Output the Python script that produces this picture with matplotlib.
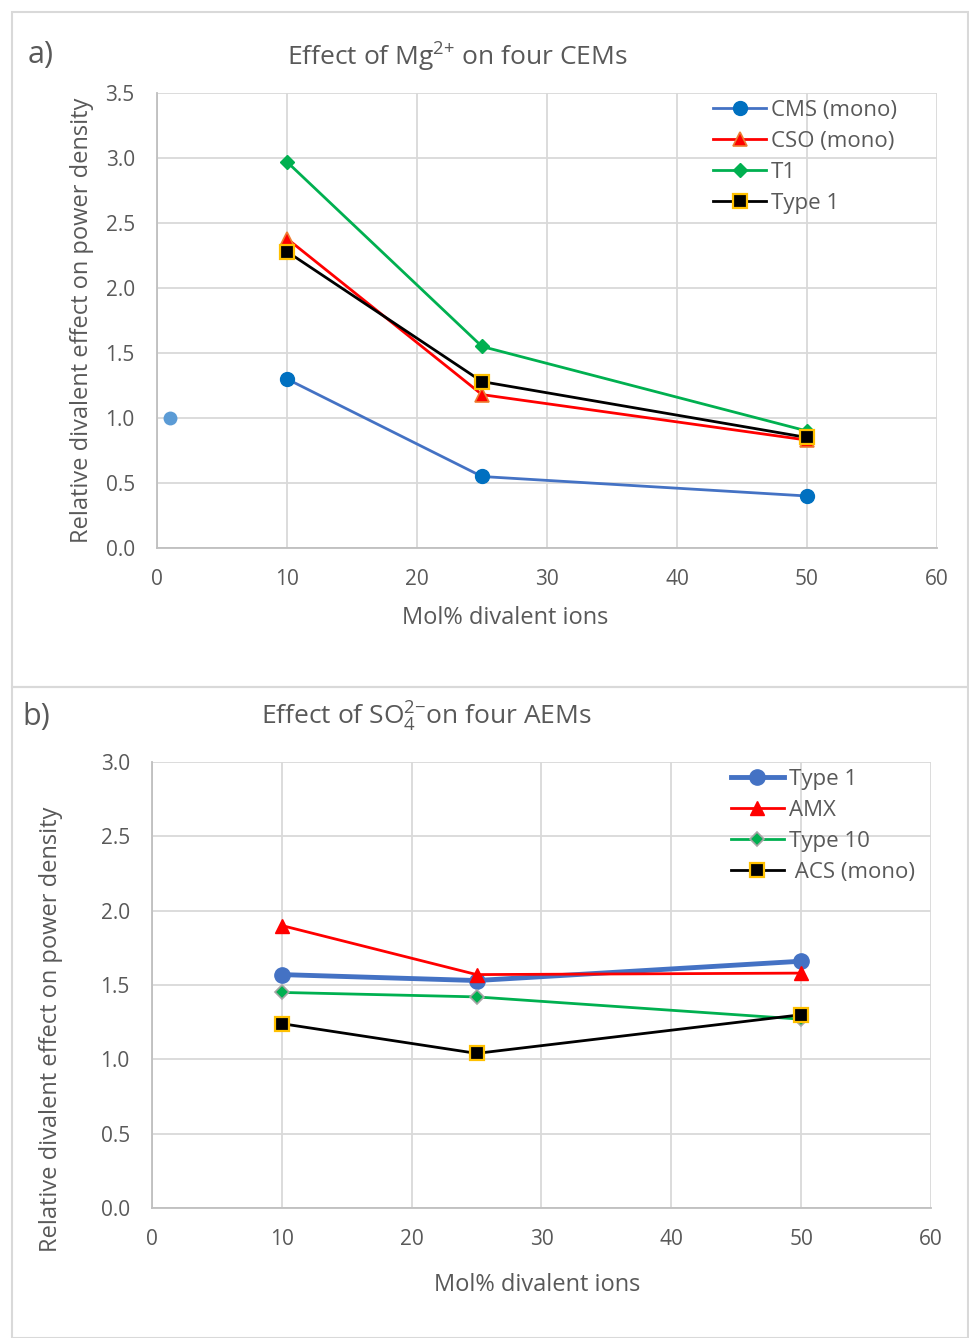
import matplotlib
matplotlib.use("Agg")
import matplotlib.pyplot as plt
from matplotlib.patches import Rectangle

plt.rcParams['font.family'] = ['Open Sans', 'DejaVu Sans']
plt.rcParams['mathtext.fontset'] = 'custom'
plt.rcParams['mathtext.rm'] = 'Open Sans'
plt.rcParams['mathtext.it'] = 'Open Sans'

# panel a: effect of Mg2+ on four CEMs
mol_a = [10, 25, 50]
cms = [1.30, 0.55, 0.40]
cso = [2.38, 1.18, 0.83]
t1 = [2.97, 1.55, 0.90]
type1_a = [2.28, 1.28, 0.85]
ref_x = [1]
ref_y = [1.0]

# panel b: effect of SO4 2- on four AEMs
mol_b = [10, 25, 50]
type1_b = [1.57, 1.53, 1.66]
amx = [1.90, 1.57, 1.58]
type10 = [1.45, 1.42, 1.27]
acs = [1.24, 1.04, 1.30]

grey_text = '#595959'
grid_col = '#D9D9D9'

fig = plt.figure(figsize=(9.7, 13.38), dpi=100)
W, H = 970, 1338


def fx(px):
    return px / W


def fy(py):
    return 1 - py / H


# frame boxes around each panel
for top, bot in [(12, 687), (687, 1338)]:
    fig.patches.append(Rectangle((fx(12), fy(bot)), fx(968) - fx(12), fy(top) - fy(bot),
                                 transform=fig.transFigure, fill=False,
                                 edgecolor='#D9D9D9', linewidth=1.5))


def style_axes(ax, ymax, step):
    ax.set_xlim(0, 60)
    ax.set_ylim(0, ymax)
    ax.set_xticks(range(0, 61, 10))
    yt = [i * step for i in range(int(round(ymax / step)) + 1)]
    ax.set_yticks(yt)
    ax.set_yticklabels([f"{v:.1f}" for v in yt])
    ax.grid(True, color=grid_col, linewidth=1.3)
    ax.set_axisbelow(True)
    for s in ['top', 'right']:
        ax.spines[s].set_visible(False)
    for s in ['left', 'bottom']:
        ax.spines[s].set_color('#BFBFBF')
        ax.spines[s].set_linewidth(1.3)
    ax.tick_params(length=0, labelsize=15, labelcolor=grey_text)
    ax.tick_params(axis='x', pad=15)
    ax.tick_params(axis='y', pad=16)


def style_legend(ax, x0):
    leg = ax.legend(loc='upper left', bbox_to_anchor=(x0, 0.985), frameon=False,
                    fontsize=16, handlelength=2.4, handletextpad=0.2,
                    labelspacing=0.45, borderaxespad=0, borderpad=0)
    for t in leg.get_texts():
        t.set_color(grey_text)


# ---- panel a ----
ax1 = fig.add_axes([fx(157), fy(548), fx(937) - fx(157), fy(93) - fy(548)])
style_axes(ax1, 3.5, 0.5)
ax1.plot(ref_x, ref_y, 'o', color='#5B9BD5', markersize=10, markeredgewidth=0)
ax1.plot(mol_a, cms, '-o', color='#4472C4', linewidth=2, markersize=10,
         markerfacecolor='#0070C0', markeredgecolor='#0070C0', label='CMS (mono)')
ax1.plot(mol_a, cso, '-^', color='#FF0000', linewidth=2, markersize=10,
         markerfacecolor='#FF0000', markeredgecolor='#ED7D31', markeredgewidth=1.2,
         label='CSO (mono)')
ax1.plot(mol_a, t1, '-D', color='#00B050', linewidth=2, markersize=7,
         markerfacecolor='#00B050', markeredgecolor='#00B050', label='T1')
ax1.plot(mol_a, type1_a, '-s', color='black', linewidth=2, markersize=10,
         markerfacecolor='black', markeredgecolor='#FFC000', markeredgewidth=1.6,
         label='Type 1')
ax1.set_xlabel('Mol% divalent ions', fontsize=17, color=grey_text)
ax1.xaxis.set_label_coords(0.446, -0.127)
ax1.set_ylabel('Relative divalent effect on power density', fontsize=17,
               color=grey_text)
ax1.yaxis.set_label_coords(-0.081, 0.5)
style_legend(ax1, 0.713)
fig.text(fx(457), fy(57), r'Effect of Mg$\mathregular{^{2{+}}}$ on four CEMs',
         fontsize=19, color=grey_text, ha='center', va='center')
fig.text(fx(28), fy(55), 'a)', fontsize=22, color=grey_text, ha='left', va='center')

# ---- panel b ----
ax2 = fig.add_axes([fx(152), fy(1208), fx(931) - fx(152), fy(762) - fy(1208)])
style_axes(ax2, 3.0, 0.5)
ax2.plot(mol_b, type1_b, '-o', color='#4472C4', linewidth=3.5, markersize=11,
         markerfacecolor='#4472C4', markeredgecolor='#4472C4', label='Type 1')
ax2.plot(mol_b, amx, '-^', color='#FF0000', linewidth=2, markersize=10,
         markerfacecolor='#FF0000', markeredgecolor='#FF0000', label='AMX')
ax2.plot(mol_b, type10, '-D', color='#00B050', linewidth=2, markersize=7,
         markerfacecolor='#00B050', markeredgecolor='#A5A5A5', markeredgewidth=1.2,
         label='Type 10')
ax2.plot(mol_b, acs, '-s', color='black', linewidth=2, markersize=10,
         markerfacecolor='black', markeredgecolor='#FFC000', markeredgewidth=1.6,
         label=' ACS (mono)')
ax2.set_xlabel('Mol% divalent ions', fontsize=17, color=grey_text)
ax2.xaxis.set_label_coords(0.494, -0.146)
ax2.set_ylabel('Relative divalent effect on power density', fontsize=17,
               color=grey_text)
ax2.yaxis.set_label_coords(-0.114, 0.401)
style_legend(ax2, 0.743)
fig.text(fx(426), fy(717), r'Effect of SO$\mathregular{_4^{2{-}}}$on four AEMs',
         fontsize=19, color=grey_text, ha='center', va='center')
fig.text(fx(22), fy(717), 'b)', fontsize=22, color=grey_text, ha='left', va='center')

fig.savefig('out.png', dpi=100)
